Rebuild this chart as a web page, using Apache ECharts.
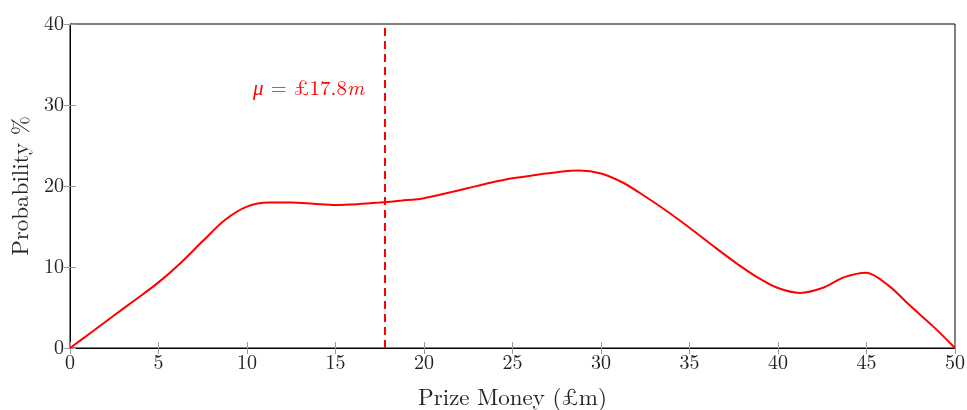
<!DOCTYPE html>
<html>
<head>
<meta charset="utf-8">
<script src="https://cdn.jsdelivr.net/npm/echarts@6/dist/echarts.min.js"></script>
<style>
  html, body { margin: 0; padding: 0; background: #fff; }
  #chart { width: 967px; height: 410px; }
</style>
</head>
<body>
<div id="chart"></div>
<script>
// Prize money (£m) and probability (%) of the distribution curve
var prizeMoney = [0, 1.25, 2.5, 3.75, 5, 6.25, 7.5, 8.75, 10, 11.25, 12.5, 13.75, 15, 16.25, 17.5, 18.75, 20,
                  21.25, 22.5, 23.75, 25, 26.25, 27.5, 28.75, 30, 31.25, 32.5, 33.75, 35, 36.25, 37.5, 38.75, 40,
                  41.25, 42.5, 43.75, 45, 46.25, 47.5, 48.75, 50];
var probability = [0, 2.0, 4.05, 6.05, 8.1, 10.5, 13.2, 15.8, 17.45, 17.95, 17.95, 17.8, 17.65, 17.75, 17.95, 18.2, 18.5,
                   19.1, 19.75, 20.4, 20.95, 21.35, 21.7, 21.9, 21.55, 20.4, 18.7, 16.85, 14.85, 12.75, 10.7, 8.85, 7.4,
                   6.8, 7.4, 8.75, 9.3, 7.7, 5.15, 2.7, 0];
var meanValue = 17.8;
var meanLabelY = 32;

var fontFamily = '"Latin Modern Roman", "CMU Serif", "Liberation Serif", serif';
var chart = echarts.init(document.getElementById('chart'));

var tickStyle = { show: true, inside: true, length: 6, lineStyle: { color: '#9a9a9a', width: 1 } };

chart.setOption({
  animation: false,
  grid: { left: 70, right: 12, top: 24, bottom: 62, containLabel: false, outerBoundsMode: 'none',
          show: true, borderColor: '#000', borderWidth: 1, backgroundColor: 'transparent' },
  xAxis: [{
    type: 'value', min: 0, max: 50, interval: 5,
    name: 'Prize Money (£m)', nameLocation: 'middle', nameGap: 38,
    nameTextStyle: { fontFamily: fontFamily, fontSize: 23, color: '#222' },
    axisLine: { show: true, lineStyle: { color: '#000', width: 1 } },
    axisTick: tickStyle,
    axisLabel: { fontFamily: fontFamily, fontSize: 20, color: '#222', margin: 5 },
    splitLine: { show: false }
  }, {
    type: 'value', min: 0, max: 50, interval: 5, position: 'top',
    axisLine: { show: false },
    axisTick: tickStyle, axisLabel: { show: false }, splitLine: { show: false }
  }],
  yAxis: [{
    type: 'value', min: 0, max: 40, interval: 10,
    name: 'Probability %', nameLocation: 'middle', nameGap: 38, nameRotate: 90,
    nameTextStyle: { fontFamily: fontFamily, fontSize: 23, color: '#222' },
    axisLine: { show: true, lineStyle: { color: '#000', width: 1 } },
    axisTick: tickStyle,
    axisLabel: { fontFamily: fontFamily, fontSize: 20, color: '#222', margin: 6 },
    splitLine: { show: false }
  }, {
    type: 'value', min: 0, max: 40, interval: 10, position: 'right',
    axisLine: { show: false },
    axisTick: tickStyle, axisLabel: { show: false }, splitLine: { show: false }
  }],
  series: [{
    type: 'line',
    xAxisIndex: 1, yAxisIndex: 1,
    data: [],
    silent: true
  }, {
    type: 'line',
    xAxisIndex: 0, yAxisIndex: 0,
    data: prizeMoney.map(function (x, i) { return [x, probability[i]]; }),
    smooth: 0.3,
    showSymbol: false,
    lineStyle: { color: '#ff0000', width: 2 },
    markLine: {
      silent: true, symbol: ['none', 'none'],
      label: { show: false },
      lineStyle: { color: '#ff0000', width: 2, type: [8, 5] },
      data: [{ xAxis: meanValue }]
    },
    markPoint: {
      silent: true,
      symbol: 'circle', symbolSize: 0,
      data: [{ coord: [meanValue, meanLabelY] }],
      label: {
        show: true, position: 'left', distance: 21,
        formatter: '{i|μ} = £17.8{i|m}',
        fontFamily: fontFamily, fontSize: 21, color: '#ff0000',
        rich: { i: { fontFamily: fontFamily, fontSize: 21, fontStyle: 'italic', color: '#ff0000' } }
      }
    }
  }]
});
</script>
</body>
</html>
